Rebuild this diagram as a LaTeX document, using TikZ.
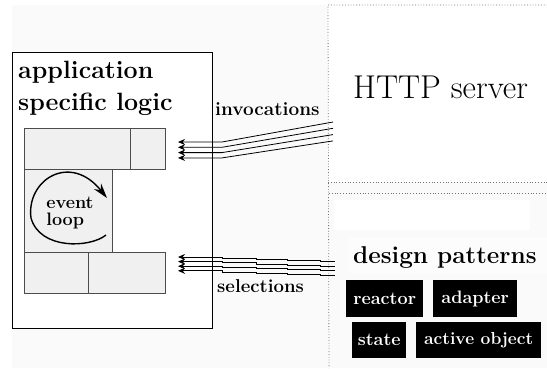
\documentclass[tikz,border=0pt]{standalone}
\usetikzlibrary{arrows.meta}
\begin{document}
\begin{tikzpicture}[x=1pt,y=-1pt]
\tikzset{
  box/.style={draw=black, fill=white, line width=0.9pt, inner sep=0, anchor=north west},
  blk/.style={draw=black!70, fill=black!6, line width=0.8pt, inner sep=0, anchor=north west},
  region/.style={fill=white, inner sep=0, anchor=north west},
  dots/.style={draw=black!55, dotted, line width=0.8pt},
  lbl/.style={font=\bfseries\fontsize{19}{19}\selectfont, inner sep=0, anchor=base west},
  big/.style={font=\bfseries\fontsize{25}{28}\selectfont, inner sep=0, anchor=base west},
  pat/.style={fill=black, text=white, font=\bfseries\fontsize{18}{18}\selectfont, inner sep=0, anchor=north west},
  wire/.style={line width=0.8pt, {Stealth[length=7pt,width=6pt]}-}}
\useasboundingbox (0,0) rectangle (547,368);
\fill[white] (0,0) rectangle (547,368);
\fill[black!2] (12,5) rectangle (547,368);
% application box
\node[box, minimum width=200pt, minimum height=276pt] (app) at (12,52) {};
\node[big] (app1) at (18,78) {application};
\node[big] (app2) at (18,110) {specific logic};
% inner blocks
\node[blk, minimum width=106pt, minimum height=41pt] (t1) at (24,128) {};
\node[blk, minimum width=35pt, minimum height=41pt] (t2) at (130,128) {};
\node[blk, minimum width=88pt, minimum height=83pt] (ev) at (24,169) {};
\node[blk, minimum width=64pt, minimum height=41pt] (b1) at (24,252) {};
\node[blk, minimum width=77pt, minimum height=41pt] (b2) at (88,252) {};
\node[font=\bfseries\fontsize{18}{17}\selectfont, align=left, inner sep=0] (evt) at (70,213) {event\\loop};
\draw[line width=1.4pt, -{Stealth[length=15pt,width=9pt]}]
  (106,235) .. controls (90,248) and (40,250) .. (31,218)
  .. controls (26,180) and (70,152) .. (107,198);
% HTTP server region
\node[region, minimum width=219pt, minimum height=177pt] (http) at (328,5) {};
\draw[dots] (http.north east) -- (http.north west) -- (329,368);
\draw[dots] (http.south west) -- (http.south east);
\node[font=\fontsize{33}{33}\selectfont, anchor=base west, inner sep=0] (httpl) at (353,98) {HTTP server};
% lower region
\coordinate (lowl) at (329,193);
\coordinate (lowr) at (547,193);
\draw[dots] (lowl) -- (lowr);
\fill[white] (334,200) rectangle (530,230);
\node[region, fill=black!1, minimum width=199pt, minimum height=36pt] (dpbg) at (348,237) {};
\node[font=\bfseries\fontsize{24.3}{25}\selectfont, inner sep=0, anchor=base west] (dp) at (353,263) {design patterns};
\node[pat, minimum width=77pt, minimum height=37pt] (reactor) at (346,280) {reactor};
\node[pat, minimum width=84pt, minimum height=37pt] (adapter) at (433,280) {adapter};
\node[pat, minimum width=54pt, minimum height=36pt] (state) at (352,322) {state};
\node[pat, minimum width=125pt, minimum height=36pt, font=\bfseries\fontsize{17.4}{18}\selectfont] (active) at (416,322) {active object};
% invocations
\node[lbl] (inv) at (215,115) {invocations};
\foreach \i in {0,1,2,3} {
  \coordinate (ia\i) at (178,{142+5.3*\i});
  \coordinate (ib\i) at (222,{142+5.3*\i});
  \coordinate (ic\i) at (333,{122+6.3*\i});
  \draw[wire] (ia\i) -- (ib\i) -- (ic\i);
}
% selections
\node[lbl, font=\bfseries\fontsize{18.6}{19}\selectfont] (sel) at (217,292) {selections};
\foreach \i in {0,1,2,3} {
  \pgfmathsetmacro\yy{257+4.6*\i}
  \coordinate (sa\i) at (178,\yy);
  \coordinate (sb\i) at (335,\yy+4.5);
  \draw[wire] (sa\i) -- (222,\yy) -- (222,\yy+1.2) -- (256,\yy+1.2) -- (256,\yy+2.4)
     -- (287,\yy+2.4) -- (287,\yy+3.6) -- (320,\yy+3.6) -- (320,\yy+4.5) -- (sb\i);
}
\end{tikzpicture}
\end{document}
